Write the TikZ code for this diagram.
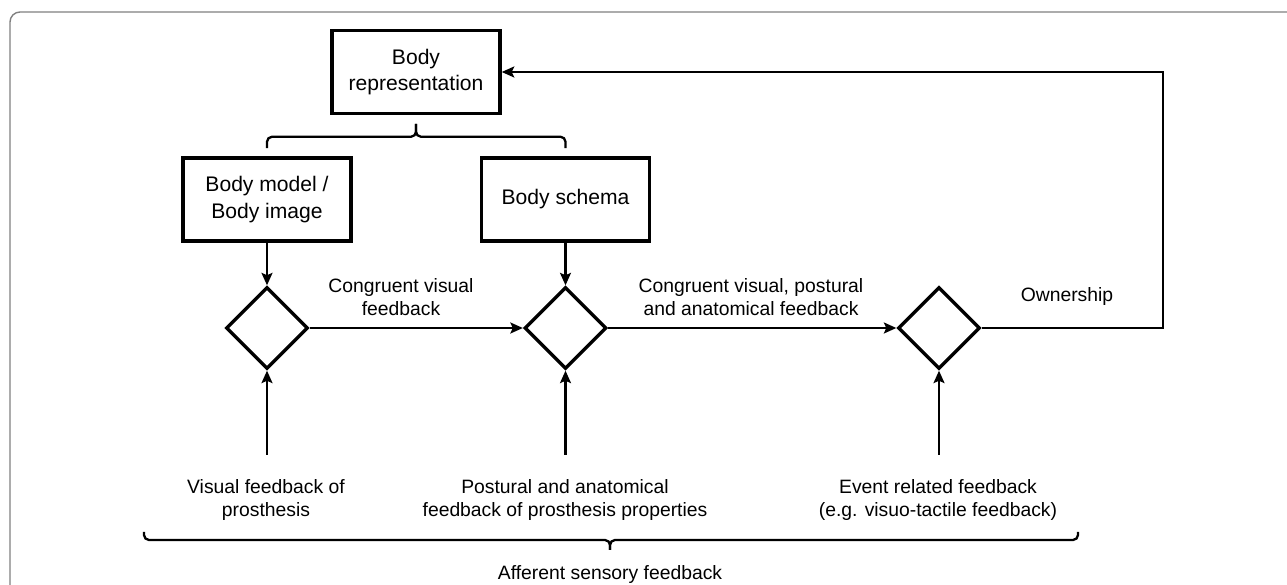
\documentclass[tikz,border=0pt]{standalone}
\usepackage{fontspec}
\setmainfont{Liberation Sans}
\usetikzlibrary{shapes.geometric,arrows.meta}

\tikzset{
  block/.style={draw, line width=2pt, minimum width=3.36cm, minimum height=1.66cm,
    align=center, font=\fontsize{12}{15}\selectfont},
  test/.style={draw, diamond, line width=1.9pt, minimum width=1.64cm,
    minimum height=1.64cm, inner sep=0pt},
  lbl/.style={align=center, font=\fontsize{11}{13}\selectfont},
  flow/.style={line width=1.3pt, -{Stealth[length=0.25cm, width=0.22cm, inset=0.05cm]}},
  bracket/.style={line width=1.3pt, rounded corners=0.1cm},
}

\begin{document}
\begin{tikzpicture}

  \useasboundingbox (0,0) rectangle (25.74,-11.7);
  \draw[black!50, line width=0.8pt, rounded corners=0.2cm] (0.2,-11.7) |- (25.74,-0.24);

  \node[block] (rep) at (8.32,-1.44) {Body\\representation};
  \node[block] (model) at (5.34,-3.99) {Body model /\\Body image};
  \node[block] (schema) at (11.31,-3.99) {Body schema};

  \node[test] (visual) at (5.34,-6.56) {};
  \node[test] (postural) at (11.31,-6.56) {};
  \node[test] (event) at (18.78,-6.56) {};

  \node[lbl] (congA) at (8.02,-5.94) {Congruent visual\\feedback};
  \node[lbl] (congB) at (15.02,-5.94) {Congruent visual, postural\\and anatomical feedback};
  \node[lbl] (own) at (21.34,-5.94) {Ownership};

  \node[lbl] (visLbl) at (5.32,-10.0) {Visual feedback of\\prosthesis};
  \node[lbl] (posLbl) at (11.3,-10.0) {Postural and anatomical\\feedback of prosthesis properties};
  \node[lbl] (evLbl) at (18.76,-10.0) {Event related feedback\\(e.g. visuo-tactile feedback)};
  \node[lbl] (afferent) at (12.2,-11.5) {Afferent sensory feedback};

  % brace under the body representation
  \draw[bracket] (model.north) ++(0,0.16) |- ([yshift=-0.43cm]rep.south) -- ([yshift=-0.17cm]rep.south);
  \draw[bracket] (schema.north) ++(0,0.16) |- ([yshift=-0.43cm]rep.south) -- ([yshift=-0.17cm]rep.south);

  \draw[flow] (model.south) -- (visual.north);
  \draw[flow] (schema.south) -- (postural.north);
  \draw[flow] (visual.east) -- (postural.west);
  \draw[flow] (postural.east) -- (event.west);

  \coordinate (turn) at (23.26,-6.56);
  \draw[flow] (event.east) -- (turn) |- (rep.east);

  \coordinate (visIn) at (5.34,-9.1);
  \coordinate (posIn) at (11.31,-9.1);
  \coordinate (evIn) at (18.78,-9.1);
  \draw[flow] (visIn) -- (visual.south);
  \draw[flow] (posIn) -- (postural.south);
  \draw[flow] (evIn) -- (event.south);

  % brace over the afferent feedback
  \coordinate (sumL) at (2.88,-10.64);
  \coordinate (sumR) at (21.56,-10.64);
  \coordinate (sumTip) at (12.2,-11.0);
  \draw[bracket] (sumL) |- (sumTip |- 0,-10.8) -- (sumTip);
  \draw[bracket] (sumR) |- (sumTip |- 0,-10.8) -- (sumTip);

\end{tikzpicture}
\end{document}
